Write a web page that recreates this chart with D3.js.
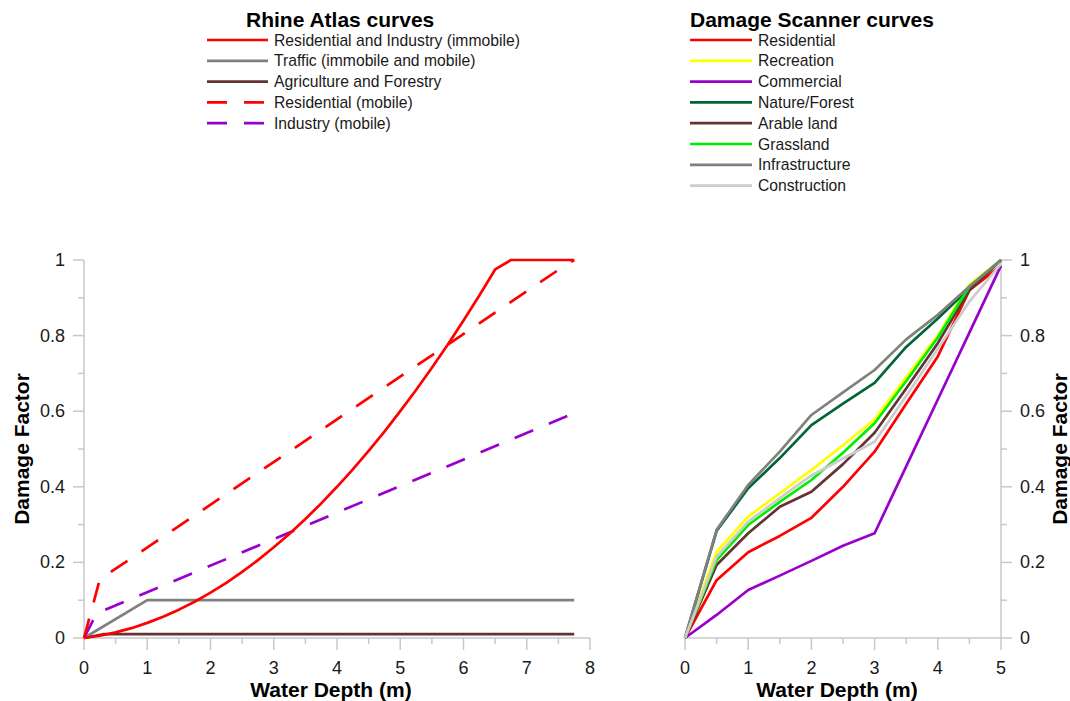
<!DOCTYPE html>
<html>
<head>
<meta charset="utf-8">
<script src="https://cdn.jsdelivr.net/npm/d3@7/dist/d3.min.js"></script>
<style>
  body { margin: 0; background: #fff; }
  svg { font-family: "Liberation Sans", Arial, sans-serif; }
</style>
</head>
<body>
<svg id="chart" width="1070" height="701"></svg>
<script>
// ---- data: Rhine Atlas curves (left panel) ----
var rhineNames = ['Residential and Industry (immobile)', 'Traffic (immobile and mobile)',
  'Agriculture and Forestry', 'Residential (mobile)', 'Industry (mobile)']
var rhineColors = ['#ff0000', '#808080', '#663333', '#ff0000', '#9900cc']
var rhineDashed = [false, false, false, true, true]
var resIndDepth = [0, 0.25, 0.5, 0.75, 1, 1.25, 1.5, 1.75, 2, 2.25, 2.5, 2.75, 3, 3.25, 3.5, 3.75,
  4, 4.25, 4.5, 4.75, 5, 5.25, 5.5, 5.75, 6, 6.25, 6.5, 6.75, 7.75]
var resIndValue = [0, 0.006, 0.015, 0.026, 0.04, 0.056, 0.075, 0.096, 0.12, 0.146, 0.175, 0.206,
  0.24, 0.276, 0.315, 0.356, 0.40, 0.446, 0.495, 0.546, 0.60, 0.656, 0.715, 0.776, 0.84, 0.906,
  0.975, 1, 1]
var trafficDepth = [0, 1, 7.75]
var trafficValue = [0, 0.1, 0.1]
var agriDepth = [0, 0.3, 7.75]
var agriValue = [0, 0.01, 0.01]
var resMobDepth = [0, 0.25, 7.6, 7.75]
var resMobValue = [0, 0.155, 0.985, 1]
var indMobDepth = [0, 0.2, 7.75]
var indMobValue = [0, 0.065, 0.595]

// ---- data: Damage Scanner curves (right panel) ----
var dsNames = ['Residential', 'Recreation', 'Commercial', 'Nature/Forest', 'Arable land',
  'Grassland', 'Infrastructure', 'Construction']
var dsColors = ['#ff0000', '#ffff00', '#9900cc', '#006633', '#663333', '#00ee00', '#808080', '#cccccc']
var dsDepth = [0, 0.5, 1, 1.5, 2, 2.5, 3, 3.5, 4, 4.5, 5]
var dsResidential   = [0, 0.153, 0.227, 0.27, 0.318, 0.40, 0.493, 0.62, 0.745, 0.92, 0.985]
var dsRecreation    = [0, 0.228, 0.321, 0.383, 0.444, 0.51, 0.578, 0.69, 0.80, 0.935, 1]
var dsCommercial    = [0, 0.061, 0.127, 0.165, 0.204, 0.244, 0.277, 0.454, 0.631, 0.808, 0.985]
var dsNature        = [0, 0.283, 0.396, 0.476, 0.563, 0.62, 0.675, 0.77, 0.845, 0.925, 1]
var dsArable        = [0, 0.193, 0.277, 0.347, 0.387, 0.46, 0.543, 0.66, 0.78, 0.92, 1]
var dsGrassland     = [0, 0.206, 0.299, 0.36, 0.418, 0.49, 0.568, 0.68, 0.795, 0.93, 1]
var dsInfra         = [0, 0.286, 0.405, 0.493, 0.59, 0.65, 0.709, 0.79, 0.855, 0.93, 1]
var dsConstruction  = [0, 0.215, 0.308, 0.37, 0.43, 0.475, 0.519, 0.64, 0.765, 0.89, 0.99]

var yTicks = [0, 0.2, 0.4, 0.6, 0.8, 1]
var yMinor = [0.1, 0.3, 0.5, 0.7, 0.9]

var svg = d3.select('#chart')
var axisCol = '#c8c8c8'
var textCol = '#1a1a1a'

function zip(xs, ys) { return xs.map(function(x, i) { return [x, ys[i]] }) }

var rhineSeries = [zip(resIndDepth, resIndValue), zip(trafficDepth, trafficValue),
  zip(agriDepth, agriValue), zip(resMobDepth, resMobValue), zip(indMobDepth, indMobValue)]
var dsSeries = [dsResidential, dsRecreation, dsCommercial, dsNature, dsArable,
  dsGrassland, dsInfra, dsConstruction].map(function(v) { return zip(dsDepth, v) })

var y = d3.scaleLinear().domain([0, 1]).range([638, 260])
var xL = d3.scaleLinear().domain([0, 8]).range([84, 590])
var xR = d3.scaleLinear().domain([0, 5]).range([685, 1001])

// x axis with major (integer) and minor (half) ticks
function xAxis(x, max) {
  var g = svg.append('g')
  g.append('line').attr('x1', x(0)).attr('x2', x(max)).attr('y1', y(0)).attr('y2', y(0))
    .attr('stroke', axisCol).attr('stroke-width', 1.5)
  d3.range(0, max + 0.01, 0.5).forEach(function(t) {
    var major = t % 1 === 0
    g.append('line').attr('x1', x(t)).attr('x2', x(t)).attr('y1', y(0)).attr('y2', y(0) + (major ? 12 : 6))
      .attr('stroke', axisCol).attr('stroke-width', 1.5)
    if (major) g.append('text').attr('x', x(t)).attr('y', 674).attr('text-anchor', 'middle')
      .attr('font-size', 18).attr('fill', textCol).text(t)
  })
  g.append('text').attr('x', (x(0) + x(max)) / 2 - 6).attr('y', 697).attr('text-anchor', 'middle')
    .attr('font-size', 21).attr('font-weight', 'bold').attr('fill', '#000').text('Water Depth (m)')
}

function yAxis(xpos, dir) {
  var g = svg.append('g')
  g.append('line').attr('x1', xpos).attr('x2', xpos).attr('y1', y(0)).attr('y2', y(1))
    .attr('stroke', axisCol).attr('stroke-width', 1.5)
  yTicks.forEach(function(t) {
    g.append('line').attr('x1', xpos).attr('x2', xpos + dir * 11).attr('y1', y(t)).attr('y2', y(t))
      .attr('stroke', axisCol).attr('stroke-width', 1.5)
    g.append('text').attr('x', xpos + dir * 19).attr('y', y(t) + 6)
      .attr('text-anchor', dir < 0 ? 'end' : 'start')
      .attr('font-size', 18).attr('fill', textCol).text(t)
  })
  yMinor.forEach(function(t) {
    g.append('line').attr('x1', xpos).attr('x2', xpos + dir * 6).attr('y1', y(t)).attr('y2', y(t))
      .attr('stroke', axisCol).attr('stroke-width', 1.5)
  })
  var lx = dir < 0 ? 29 : 1067
  g.append('text').attr('transform', 'translate(' + lx + ',' + y(0.5) + ') rotate(-90)')
    .attr('text-anchor', 'middle').attr('font-size', 21).attr('font-weight', 'bold')
    .attr('fill', '#000').text('Damage Factor')
}

xAxis(xL, 8)
yAxis(xL(0), -1)
xAxis(xR, 5)
yAxis(xR(5), 1)

var lineL = d3.line().x(function(d) { return xL(d[0]) }).y(function(d) { return y(d[1]) })
var lineR = d3.line().x(function(d) { return xR(d[0]) }).y(function(d) { return y(d[1]) })

// left panel, solid immobile curve on top
var drawOrderL = [2, 1, 4, 3, 0]
drawOrderL.forEach(function(i) {
  svg.append('path').datum(rhineSeries[i]).attr('d', lineL)
    .attr('fill', 'none').attr('stroke', rhineColors[i]).attr('stroke-width', 2.7)
    .attr('stroke-linejoin', 'round')
    .attr('stroke-dasharray', rhineDashed[i] ? '20,17' : null)
})

dsSeries.forEach(function(s, i) {
  svg.append('path').datum(s).attr('d', lineR)
    .attr('fill', 'none').attr('stroke', dsColors[i]).attr('stroke-width', 2.7)
    .attr('stroke-linejoin', 'round')
})

// legends
function legend(x0, lineW, title, titleX, names, colors, dashed) {
  var g = svg.append('g')
  g.append('text').attr('x', titleX).attr('y', 27).attr('font-size', 21).attr('font-weight', 'bold')
    .attr('fill', '#000').text(title)
  names.forEach(function(n, i) {
    var ry = 40 + i * 20.8
    g.append('line').attr('x1', x0).attr('x2', x0 + lineW).attr('y1', ry).attr('y2', ry)
      .attr('stroke', colors[i]).attr('stroke-width', 2.7)
      .attr('stroke-dasharray', dashed && dashed[i] ? '20,17' : null)
    g.append('text').attr('x', x0 + lineW + 6).attr('y', ry + 5.5).attr('font-size', 15.7)
      .attr('fill', textCol).text(n)
  })
}
legend(207, 61, 'Rhine Atlas curves', 246, rhineNames, rhineColors, rhineDashed)
legend(690, 62, 'Damage Scanner curves', 690, dsNames, dsColors, null)
</script>
</body>
</html>
